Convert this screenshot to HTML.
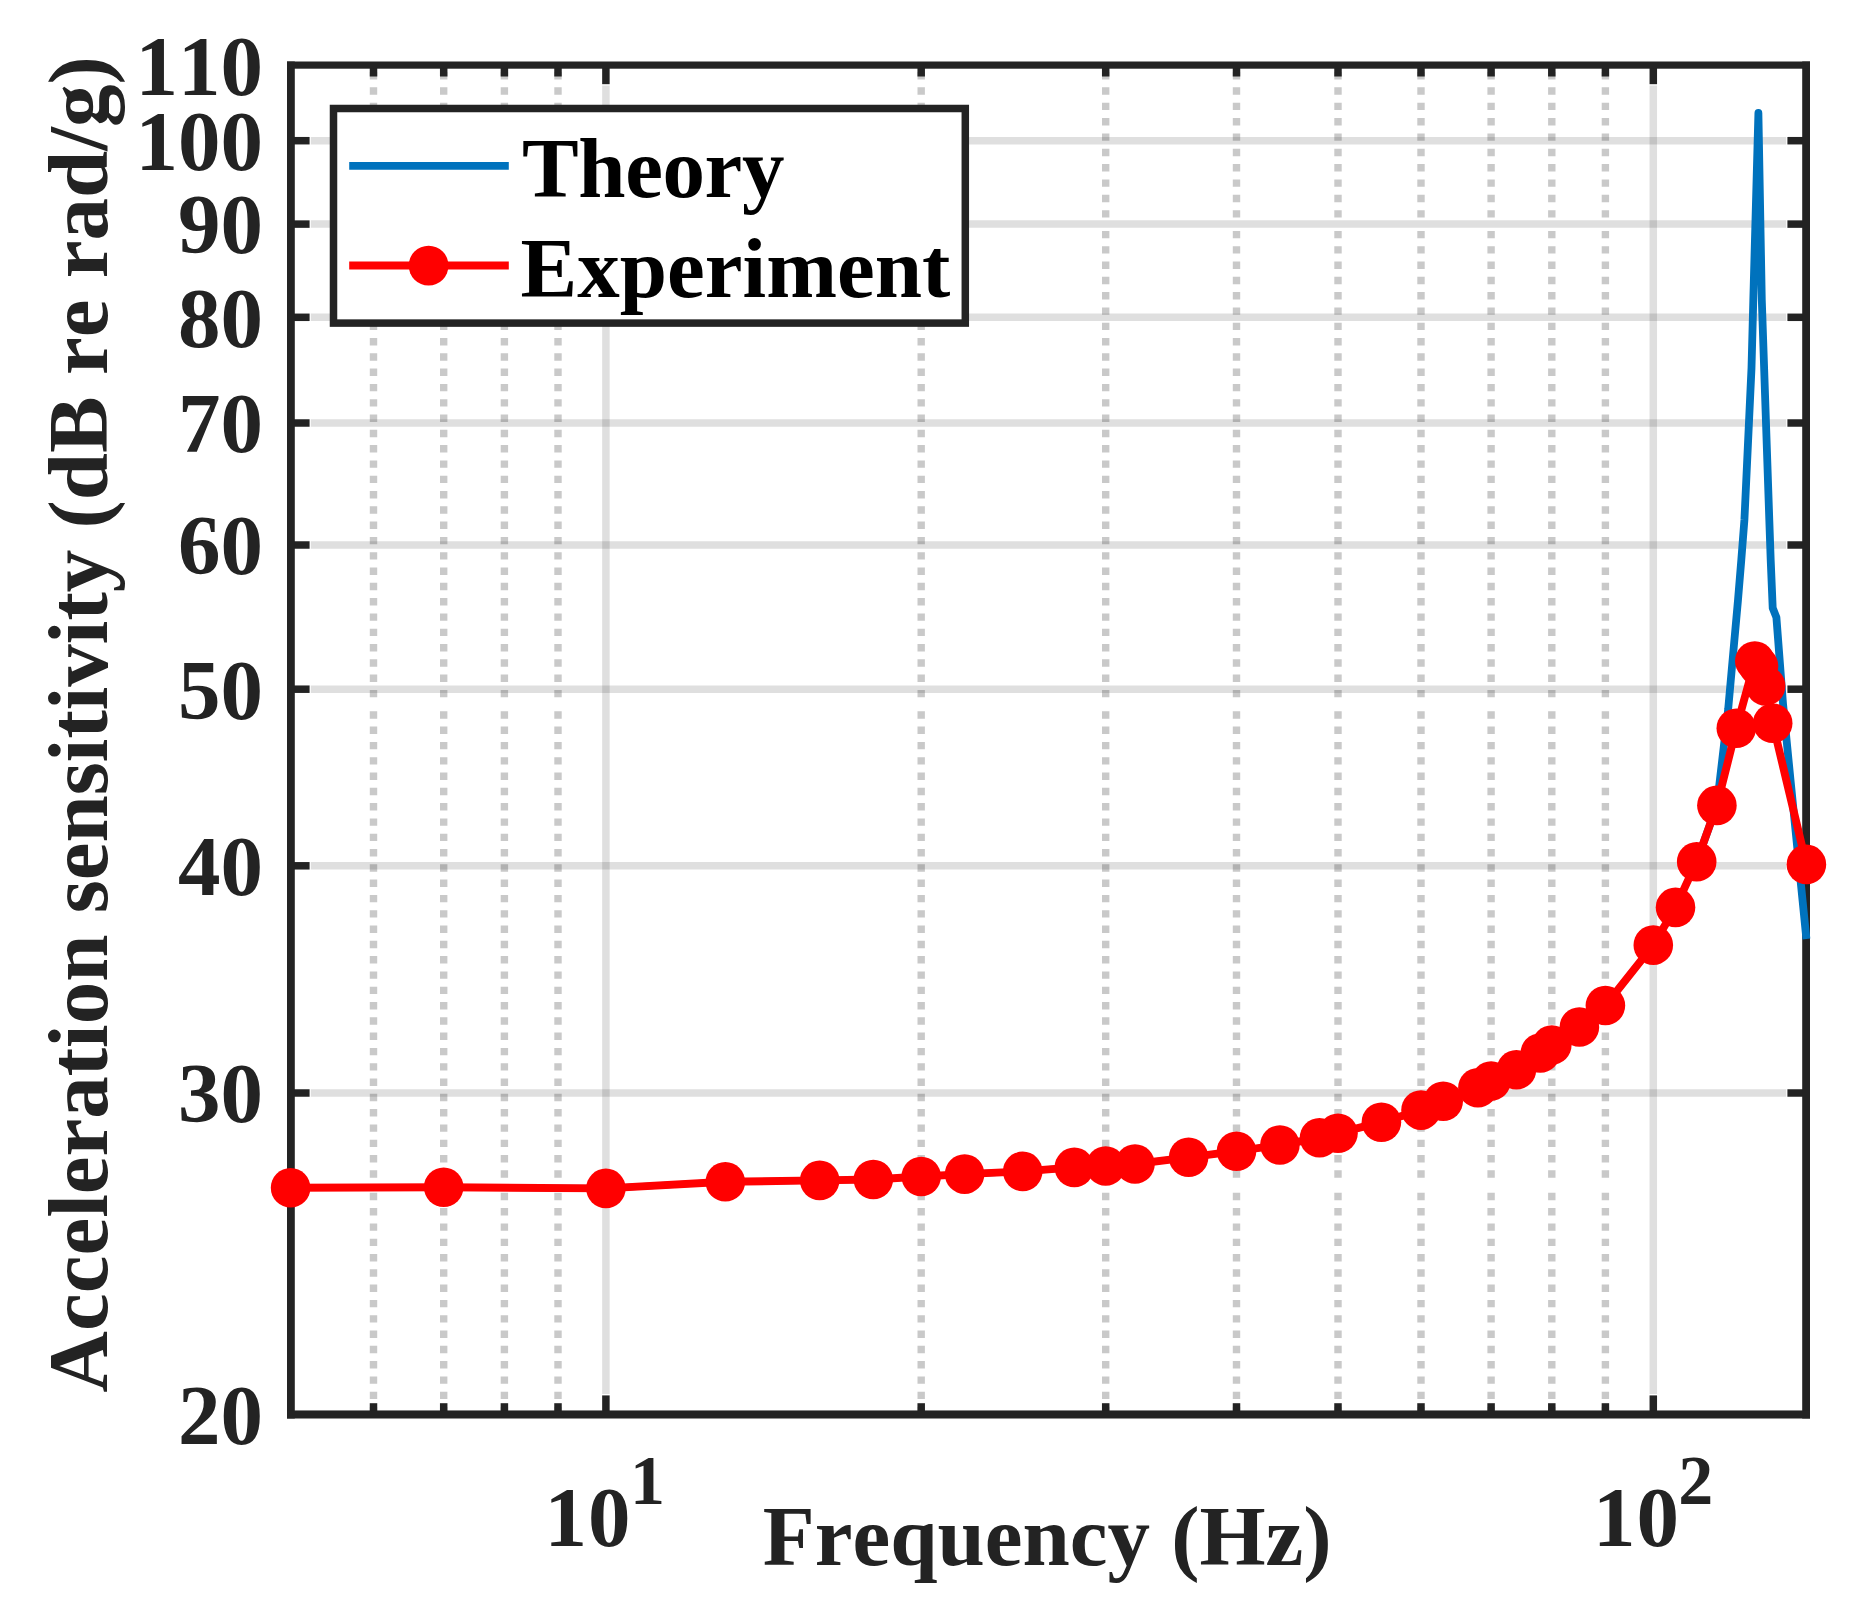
<!DOCTYPE html>
<html lang="en"><head><meta charset="utf-8"><title>Acceleration sensitivity</title>
<style>
html,body{margin:0;padding:0;background:#fff}
body{width:1860px;height:1609px;overflow:hidden}
svg{display:block}
text{font-kerning:none;font-family:"Liberation Serif",serif;font-weight:bold;font-size:85px;fill:#232323}
.leg{fill:#000}
</style></head><body>
<svg width="1860" height="1609" viewBox="0 0 1860 1609">
<rect width="1860" height="1609" fill="#fff"/>
<g stroke="#262626" stroke-opacity="0.25" stroke-width="7.4" fill="none">
<line x1="373.5" y1="72.0" x2="373.5" y2="217.6" stroke-dasharray="7.4 7.95"/>
<line x1="373.5" y1="230.9" x2="373.5" y2="697.3" stroke-dasharray="7.4 7.90"/>
<line x1="373.5" y1="711.3" x2="373.5" y2="1177.7" stroke-dasharray="7.4 7.90"/>
<line x1="373.5" y1="1192.8" x2="373.5" y2="1414.4" stroke-dasharray="7.4 7.90"/>
<line x1="443.7" y1="72.0" x2="443.7" y2="217.6" stroke-dasharray="7.4 7.95"/>
<line x1="443.7" y1="230.9" x2="443.7" y2="697.3" stroke-dasharray="7.4 7.90"/>
<line x1="443.7" y1="711.3" x2="443.7" y2="1177.7" stroke-dasharray="7.4 7.90"/>
<line x1="443.7" y1="1192.8" x2="443.7" y2="1414.4" stroke-dasharray="7.4 7.90"/>
<line x1="504.4" y1="72.0" x2="504.4" y2="217.6" stroke-dasharray="7.4 7.95"/>
<line x1="504.4" y1="230.9" x2="504.4" y2="697.3" stroke-dasharray="7.4 7.90"/>
<line x1="504.4" y1="711.3" x2="504.4" y2="1177.7" stroke-dasharray="7.4 7.90"/>
<line x1="504.4" y1="1192.8" x2="504.4" y2="1414.4" stroke-dasharray="7.4 7.90"/>
<line x1="558.0" y1="72.0" x2="558.0" y2="217.6" stroke-dasharray="7.4 7.95"/>
<line x1="558.0" y1="230.9" x2="558.0" y2="697.3" stroke-dasharray="7.4 7.90"/>
<line x1="558.0" y1="711.3" x2="558.0" y2="1177.7" stroke-dasharray="7.4 7.90"/>
<line x1="558.0" y1="1192.8" x2="558.0" y2="1414.4" stroke-dasharray="7.4 7.90"/>
<line x1="921.2" y1="72.0" x2="921.2" y2="217.6" stroke-dasharray="7.4 7.95"/>
<line x1="921.2" y1="230.9" x2="921.2" y2="697.3" stroke-dasharray="7.4 7.90"/>
<line x1="921.2" y1="711.3" x2="921.2" y2="1177.7" stroke-dasharray="7.4 7.90"/>
<line x1="921.2" y1="1192.8" x2="921.2" y2="1414.4" stroke-dasharray="7.4 7.90"/>
<line x1="1105.7" y1="72.0" x2="1105.7" y2="217.6" stroke-dasharray="7.4 7.95"/>
<line x1="1105.7" y1="230.9" x2="1105.7" y2="697.3" stroke-dasharray="7.4 7.90"/>
<line x1="1105.7" y1="711.3" x2="1105.7" y2="1177.7" stroke-dasharray="7.4 7.90"/>
<line x1="1105.7" y1="1192.8" x2="1105.7" y2="1414.4" stroke-dasharray="7.4 7.90"/>
<line x1="1236.5" y1="72.0" x2="1236.5" y2="217.6" stroke-dasharray="7.4 7.95"/>
<line x1="1236.5" y1="230.9" x2="1236.5" y2="697.3" stroke-dasharray="7.4 7.90"/>
<line x1="1236.5" y1="711.3" x2="1236.5" y2="1177.7" stroke-dasharray="7.4 7.90"/>
<line x1="1236.5" y1="1192.8" x2="1236.5" y2="1414.4" stroke-dasharray="7.4 7.90"/>
<line x1="1338.0" y1="72.0" x2="1338.0" y2="217.6" stroke-dasharray="7.4 7.95"/>
<line x1="1338.0" y1="230.9" x2="1338.0" y2="697.3" stroke-dasharray="7.4 7.90"/>
<line x1="1338.0" y1="711.3" x2="1338.0" y2="1177.7" stroke-dasharray="7.4 7.90"/>
<line x1="1338.0" y1="1192.8" x2="1338.0" y2="1414.4" stroke-dasharray="7.4 7.90"/>
<line x1="1421.0" y1="72.0" x2="1421.0" y2="217.6" stroke-dasharray="7.4 7.95"/>
<line x1="1421.0" y1="230.9" x2="1421.0" y2="697.3" stroke-dasharray="7.4 7.90"/>
<line x1="1421.0" y1="711.3" x2="1421.0" y2="1177.7" stroke-dasharray="7.4 7.90"/>
<line x1="1421.0" y1="1192.8" x2="1421.0" y2="1414.4" stroke-dasharray="7.4 7.90"/>
<line x1="1491.1" y1="72.0" x2="1491.1" y2="217.6" stroke-dasharray="7.4 7.95"/>
<line x1="1491.1" y1="230.9" x2="1491.1" y2="697.3" stroke-dasharray="7.4 7.90"/>
<line x1="1491.1" y1="711.3" x2="1491.1" y2="1177.7" stroke-dasharray="7.4 7.90"/>
<line x1="1491.1" y1="1192.8" x2="1491.1" y2="1414.4" stroke-dasharray="7.4 7.90"/>
<line x1="1551.8" y1="72.0" x2="1551.8" y2="217.6" stroke-dasharray="7.4 7.95"/>
<line x1="1551.8" y1="230.9" x2="1551.8" y2="697.3" stroke-dasharray="7.4 7.90"/>
<line x1="1551.8" y1="711.3" x2="1551.8" y2="1177.7" stroke-dasharray="7.4 7.90"/>
<line x1="1551.8" y1="1192.8" x2="1551.8" y2="1414.4" stroke-dasharray="7.4 7.90"/>
<line x1="1605.4" y1="72.0" x2="1605.4" y2="217.6" stroke-dasharray="7.4 7.95"/>
<line x1="1605.4" y1="230.9" x2="1605.4" y2="697.3" stroke-dasharray="7.4 7.90"/>
<line x1="1605.4" y1="711.3" x2="1605.4" y2="1177.7" stroke-dasharray="7.4 7.90"/>
<line x1="1605.4" y1="1192.8" x2="1605.4" y2="1414.4" stroke-dasharray="7.4 7.90"/>
</g>
<g stroke="#262626" stroke-opacity="0.15" stroke-width="7.5" fill="none">
<line x1="605.9" y1="85.55" x2="605.9" y2="1394.1000000000001"/>
<line x1="1653.3" y1="85.55" x2="1653.3" y2="1394.1000000000001"/>
<line x1="310.8" y1="1093.0" x2="1786.2" y2="1093.0"/>
<line x1="310.8" y1="865.8" x2="1786.2" y2="865.8"/>
<line x1="310.8" y1="689.2" x2="1786.2" y2="689.2"/>
<line x1="310.8" y1="545.0" x2="1786.2" y2="545.0"/>
<line x1="310.8" y1="423.0" x2="1786.2" y2="423.0"/>
<line x1="310.8" y1="317.3" x2="1786.2" y2="317.3"/>
<line x1="310.8" y1="224.1" x2="1786.2" y2="224.1"/>
<line x1="310.8" y1="140.7" x2="1786.2" y2="140.7"/>
</g>
<g stroke="#232323" stroke-width="7.5" fill="none">
<line x1="373.5" y1="1414.4" x2="373.5" y2="1403.2"/><line x1="373.5" y1="65.25" x2="373.5" y2="76.5"/>
<line x1="443.7" y1="1414.4" x2="443.7" y2="1403.2"/><line x1="443.7" y1="65.25" x2="443.7" y2="76.5"/>
<line x1="504.4" y1="1414.4" x2="504.4" y2="1403.2"/><line x1="504.4" y1="65.25" x2="504.4" y2="76.5"/>
<line x1="558.0" y1="1414.4" x2="558.0" y2="1403.2"/><line x1="558.0" y1="65.25" x2="558.0" y2="76.5"/>
<line x1="921.2" y1="1414.4" x2="921.2" y2="1403.2"/><line x1="921.2" y1="65.25" x2="921.2" y2="76.5"/>
<line x1="1105.7" y1="1414.4" x2="1105.7" y2="1403.2"/><line x1="1105.7" y1="65.25" x2="1105.7" y2="76.5"/>
<line x1="1236.5" y1="1414.4" x2="1236.5" y2="1403.2"/><line x1="1236.5" y1="65.25" x2="1236.5" y2="76.5"/>
<line x1="1338.0" y1="1414.4" x2="1338.0" y2="1403.2"/><line x1="1338.0" y1="65.25" x2="1338.0" y2="76.5"/>
<line x1="1421.0" y1="1414.4" x2="1421.0" y2="1403.2"/><line x1="1421.0" y1="65.25" x2="1421.0" y2="76.5"/>
<line x1="1491.1" y1="1414.4" x2="1491.1" y2="1403.2"/><line x1="1491.1" y1="65.25" x2="1491.1" y2="76.5"/>
<line x1="1551.8" y1="1414.4" x2="1551.8" y2="1403.2"/><line x1="1551.8" y1="65.25" x2="1551.8" y2="76.5"/>
<line x1="1605.4" y1="1414.4" x2="1605.4" y2="1403.2"/><line x1="1605.4" y1="65.25" x2="1605.4" y2="76.5"/>
<line x1="605.9" y1="1414.4" x2="605.9" y2="1395.4"/><line x1="605.9" y1="65.25" x2="605.9" y2="84.2"/>
<line x1="1653.3" y1="1414.4" x2="1653.3" y2="1395.4"/><line x1="1653.3" y1="65.25" x2="1653.3" y2="84.2"/>
<line x1="290.6" y1="1093.0" x2="309.6" y2="1093.0"/><line x1="1806.4" y1="1093.0" x2="1787.4" y2="1093.0"/>
<line x1="290.6" y1="865.8" x2="309.6" y2="865.8"/><line x1="1806.4" y1="865.8" x2="1787.4" y2="865.8"/>
<line x1="290.6" y1="689.2" x2="309.6" y2="689.2"/><line x1="1806.4" y1="689.2" x2="1787.4" y2="689.2"/>
<line x1="290.6" y1="545.0" x2="309.6" y2="545.0"/><line x1="1806.4" y1="545.0" x2="1787.4" y2="545.0"/>
<line x1="290.6" y1="423.0" x2="309.6" y2="423.0"/><line x1="1806.4" y1="423.0" x2="1787.4" y2="423.0"/>
<line x1="290.6" y1="317.3" x2="309.6" y2="317.3"/><line x1="1806.4" y1="317.3" x2="1787.4" y2="317.3"/>
<line x1="290.6" y1="224.1" x2="309.6" y2="224.1"/><line x1="1806.4" y1="224.1" x2="1787.4" y2="224.1"/>
<line x1="290.6" y1="140.7" x2="309.6" y2="140.7"/><line x1="1806.4" y1="140.7" x2="1787.4" y2="140.7"/>
</g><g fill="#232323"><rect x="287" y="61.5" width="7.8" height="1357"/><rect x="1802.2" y="61.5" width="7.8" height="1357"/><rect x="287" y="61.5" width="1523" height="7.2"/><rect x="287" y="1410.45" width="1523" height="8.05"/>
</g>
<polyline fill="none" stroke="#0072BD" stroke-width="6.6" stroke-linejoin="round" points="290.6,1187.8 443.7,1187.2 605.9,1188.4 725.3,1181.8 819.7,1180.4 873.3,1179.5 921.2,1176.5 964.6,1174.1 1022.7,1171.4 1074.3,1167.4 1105.7,1166.0 1135.0,1164.0 1188.6,1157.3 1236.5,1151.2 1279.9,1145.0 1319.5,1137.8 1338.0,1133.2 1381.4,1122.2 1421.0,1110.1 1443.2,1101.2 1477.9,1087.8 1491.1,1081.0 1516.4,1069.8 1540.3,1053.0 1551.8,1045.0 1579.4,1027.0 1605.4,1005.5 1653.3,945.1 1675.5,907.4 1696.7,861.7"/>
<polyline fill="none" stroke="#0072BD" stroke-width="7.8" stroke-linejoin="round" points="1696.7,861.7 1716.9,805.4 1728.2,709.0 1738.0,600.0 1741.3,560.0 1744.4,520.0 1751.5,368.0 1753.3,300.0 1758.4,113.0 1761.8,300.0 1769.3,520.0 1770.7,560.0 1772.7,608.0 1776.4,617.4 1783.0,703.5 1790.5,780.0 1802.6,900.8 1806.4,939.0"/>
<polyline fill="none" stroke="#FF0000" stroke-width="7.9" stroke-linejoin="round" points="290.6,1187.8 443.7,1187.2 605.9,1188.4 725.3,1181.8 819.7,1180.4 873.3,1179.5 921.2,1176.5 964.6,1174.1 1022.7,1171.4 1074.3,1167.4 1105.7,1166.0 1135.0,1164.0 1188.6,1157.3 1236.5,1151.2 1279.9,1145.0 1319.5,1137.8 1338.0,1133.2 1381.4,1122.2 1421.0,1110.1 1443.2,1101.2 1477.9,1087.8 1491.1,1081.0 1516.4,1069.8 1540.3,1053.0 1551.8,1045.0 1579.4,1027.0 1605.4,1005.5 1653.3,945.1 1675.5,907.4 1696.7,861.7 1716.9,805.4 1736.3,728.2 1754.8,661.0 1758.5,666.0 1765.6,685.9 1772.7,723.2 1806.4,864.4"/>
<g fill="#FF0000"><circle cx="290.6" cy="1187.8" r="19.8"/><circle cx="443.7" cy="1187.2" r="19.8"/><circle cx="605.9" cy="1188.4" r="19.8"/><circle cx="725.3" cy="1181.8" r="19.8"/><circle cx="819.7" cy="1180.4" r="19.8"/><circle cx="873.3" cy="1179.5" r="19.8"/><circle cx="921.2" cy="1176.5" r="19.8"/><circle cx="964.6" cy="1174.1" r="19.8"/><circle cx="1022.7" cy="1171.4" r="19.8"/><circle cx="1074.3" cy="1167.4" r="19.8"/><circle cx="1105.7" cy="1166.0" r="19.8"/><circle cx="1135.0" cy="1164.0" r="19.8"/><circle cx="1188.6" cy="1157.3" r="19.8"/><circle cx="1236.5" cy="1151.2" r="19.8"/><circle cx="1279.9" cy="1145.0" r="19.8"/><circle cx="1319.5" cy="1137.8" r="19.8"/><circle cx="1338.0" cy="1133.2" r="19.8"/><circle cx="1381.4" cy="1122.2" r="19.8"/><circle cx="1421.0" cy="1110.1" r="19.8"/><circle cx="1443.2" cy="1101.2" r="19.8"/><circle cx="1477.9" cy="1087.8" r="19.8"/><circle cx="1491.1" cy="1081.0" r="19.8"/><circle cx="1516.4" cy="1069.8" r="19.8"/><circle cx="1540.3" cy="1053.0" r="19.8"/><circle cx="1551.8" cy="1045.0" r="19.8"/><circle cx="1579.4" cy="1027.0" r="19.8"/><circle cx="1605.4" cy="1005.5" r="19.8"/><circle cx="1653.3" cy="945.1" r="19.8"/><circle cx="1675.5" cy="907.4" r="19.8"/><circle cx="1696.7" cy="861.7" r="19.8"/><circle cx="1716.9" cy="805.4" r="19.8"/><circle cx="1736.3" cy="728.2" r="19.8"/><circle cx="1754.8" cy="661.0" r="19.8"/><circle cx="1758.5" cy="666.0" r="19.8"/><circle cx="1765.6" cy="685.9" r="19.8"/><circle cx="1772.7" cy="723.2" r="19.8"/><circle cx="1806.4" cy="864.4" r="19.8"/></g>
<rect x="333.5" y="108.5" width="631.8" height="214.6" fill="#fff" stroke="#232323" stroke-width="7.5"/>
<line x1="349.2" y1="165.8" x2="508.8" y2="165.8" stroke="#0072BD" stroke-width="7.8"/>
<line x1="349.2" y1="265.5" x2="508.8" y2="265.5" stroke="#FF0000" stroke-width="7.9"/><circle cx="428.6" cy="265.6" r="19.9" fill="#FF0000"/>
<text class="leg" x="522" y="196.8" letter-spacing="-0.4">Theory</text>
<text class="leg" x="520.6" y="296.6">Experiment</text>
<text x="262.9" y="1443.7" text-anchor="end">20</text>
<text x="262.9" y="1122.3" text-anchor="end">30</text>
<text x="262.9" y="895.1" text-anchor="end">40</text>
<text x="262.9" y="718.5" text-anchor="end">50</text>
<text x="262.9" y="574.3" text-anchor="end">60</text>
<text x="262.9" y="452.3" text-anchor="end">70</text>
<text x="262.9" y="346.6" text-anchor="end">80</text>
<text x="262.9" y="253.4" text-anchor="end">90</text>
<text x="262.9" y="170.0" text-anchor="end">100</text>
<text x="262.9" y="94.5" text-anchor="end">110</text>
<text x="544.5" y="1545.7" letter-spacing="1">10</text><text x="630" y="1504.1" style="font-size:70px">1</text>
<text x="1592.9" y="1545.7" letter-spacing="1">10</text><text x="1678.3" y="1503.8" style="font-size:70px">2</text>
<text x="762.8" y="1564.5">Frequency (Hz)</text>
<text transform="translate(106.5 1392.4) rotate(-90)" x="0" y="0">Acceleration sensitivity (dB re rad/g)</text>
</svg></body></html>
